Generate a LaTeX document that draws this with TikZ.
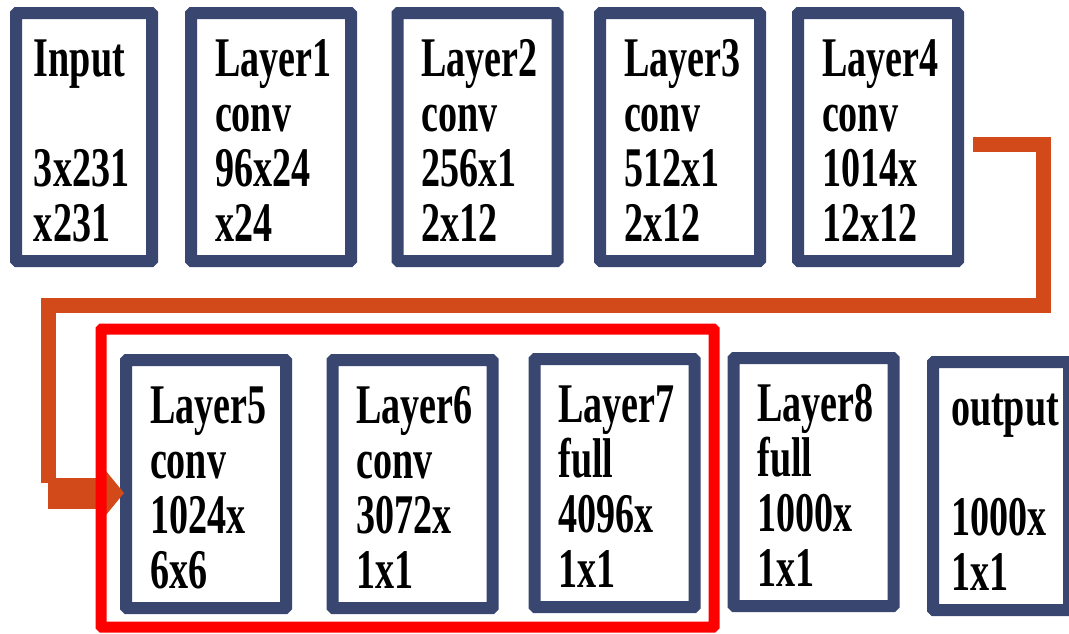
\documentclass[tikz,border=0pt]{standalone}
\usepackage{fontspec}
\newfontfamily\layerfont[FakeStretch=0.68]{Liberation Serif}
\usetikzlibrary{arrows.meta}
\definecolor{navy}{RGB}{56,70,112}
\definecolor{rust}{RGB}{210,74,25}

\begin{document}
\begin{tikzpicture}[x=1pt,y=-1pt,>={Triangle[length=18pt,width=44pt,line width=0pt]},layer/.style={draw=navy, line width=12pt, rounded corners=1pt, fill=white, align=left, text width=112pt, inner xsep=24pt, inner ysep=0pt, text height=63pt, text depth=185pt, font=\layerfont\bfseries\fontsize{56pt}{55pt}\selectfont},narrow/.style={text width=100pt, inner xsep=18pt},link/.style={rust, line width=15pt},bigarrow/.style={->, rust, line width=31pt},frame/.style={draw=red, line width=11pt, rounded corners=1pt}]
\useasboundingbox (0,0) rectangle (1069,633);
\node[layer,narrow] (in) at (84,137) {Input\\\mbox{}\\3x231\\x231};
\node[layer] (l1) at (271,137) {Layer1\\conv\\96x24\\x24};
\node[layer] (l2) at (477.5,137) {Layer2\\conv\\256x1\\2x12};
\node[layer] (l3) at (680,137) {Layer3\\conv\\512x1\\2x12};
\node[layer] (l4) at (878,137) {Layer4\\conv\\1014x\\12x12};
\node[layer] (l5) at (206,484) {Layer5\\conv\\1024x\\6x6};
\node[layer] (l6) at (412.5,484) {Layer6\\conv\\3072x\\1x1};
\node[layer] (l7) at (614.5,483) {Layer7\\full\\4096x\\1x1};
\node[layer] (l8) at (813.5,482) {Layer8\\full\\1000x\\1x1};
\node[layer,narrow] (out) at (1001,486) {output\\\mbox{}\\1000x\\1x1};
\coordinate (turn) at (48,483);
\draw[link] ([xshift=9pt,yshift=-7pt]l4.east) -- ++(70,0) |- (48,305) -- (turn);
\draw[bigarrow] ([yshift=-10pt]turn) -- ([xshift=4pt,yshift=-9pt]l5.west);
\draw[frame] (101,329) rectangle (714,627);
\end{tikzpicture}
\end{document}
